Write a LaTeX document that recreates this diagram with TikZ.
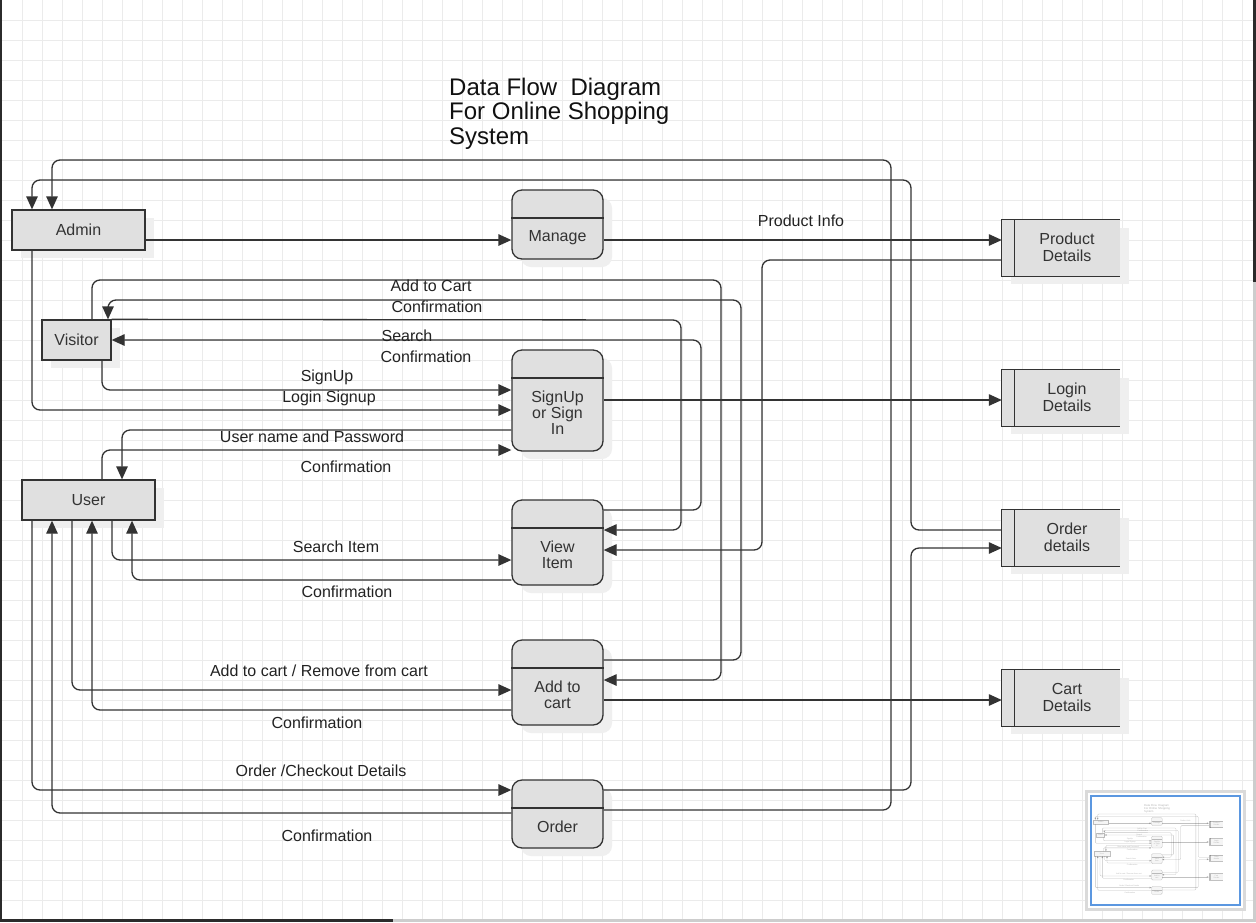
\documentclass[tikz,border=0pt]{standalone}
\usepackage{fontspec}
\setmainfont{Liberation Sans}
\usetikzlibrary{arrows.meta,shadows,calc}
\definecolor{linec}{HTML}{333333}
\definecolor{boxc}{HTML}{E0E0E0}
\definecolor{shadc}{HTML}{EFEFEF}
\definecolor{gridc}{HTML}{EBEBEB}
\definecolor{txtc}{HTML}{333333}
\definecolor{lblc}{HTML}{222222}
\definecolor{ttlc}{HTML}{111111}
\definecolor{darkc}{HTML}{2B2B2B}
\definecolor{scrollc}{HTML}{CDCDCD}
\definecolor{navc}{HTML}{5B97E0}
\definecolor{navshc}{HTML}{DADADA}
\def\lw{1.3pt}
\def\asc{1}
\def\rc{8pt}
\def\prc{10pt}
\tikzset{
  shd/.style={drop shadow={shadow xshift=9pt, shadow yshift=-8pt, fill=shadc, opacity=1}},
  flow/.style={draw=linec, line width=\lw, rounded corners=\rc,
    -{Triangle[length=13pt,width=11.5pt,scale=\asc]}},
  ent/.style={draw=linec, fill=boxc, line width=\lw, inner sep=0pt,
    text=txtc, font=\fontsize{16}{17}\selectfont, shd},
  proc/.style={ent, rounded corners=\prc, minimum width=91pt},
  store/.style={fill=boxc, draw=none, inner sep=0pt, minimum width=118pt, minimum height=56pt, shd},
  sline/.style={draw=linec, line width=\lw},
  ptxt/.style={text=txtc, font=\fontsize{16}{16}\selectfont, align=center, inner sep=0pt},
  stxt/.style={text=txtc, font=\fontsize{16}{17}\selectfont, align=center, inner sep=0pt},
  lbl/.style={text=lblc, font=\fontsize{16}{17}\selectfont, inner sep=0pt},
  ttl/.style={text=ttlc, font=\fontsize{24}{26}\selectfont, anchor=base west, inner sep=0pt},
}
\newcommand\storeframe[1]{%
  \draw[sline] (#1.north east) -- (#1.north west) -- (#1.south west) -- (#1.south east);
  \draw[sline] ($(#1.north west)+(12.5,0)$) -- ($(#1.south west)+(12.5,0)$);}
\newcommand\drawdfd[1]{%
  % title
  \node[ttl] (#1t1) at (449,95) {Data Flow\ \ Diagram};
  \node[ttl] (#1t2) at (449,119.5) {For Online Shopping};
  \node[ttl] (#1t3) at (449,144) {System};
  % external entities
  \node[ent, minimum width=133pt, minimum height=40pt] (#1admin) at (78.5,230) {Admin};
  \node[ent, minimum width=69pt, minimum height=40pt] (#1visitor) at (76.5,340) {Visitor};
  \node[ent, minimum width=133pt, minimum height=40pt] (#1user) at (88.5,500) {User};
  % processes
  \node[proc, minimum height=69pt] (#1manage) at (557.5,224.5) {};
  \node[proc, minimum height=101pt] (#1signup) at (557.5,400.5) {};
  \node[proc, minimum height=85pt] (#1view) at (557.5,542.5) {};
  \node[proc, minimum height=85pt] (#1cart) at (557.5,682.5) {};
  \node[proc, minimum height=68pt] (#1order) at (557.5,814) {};
  \draw[sline] (#1manage.west |- 0,218) -- (#1manage.east |- 0,218);
  \draw[sline] (#1signup.west |- 0,378) -- (#1signup.east |- 0,378);
  \draw[sline] (#1view.west |- 0,528) -- (#1view.east |- 0,528);
  \draw[sline] (#1cart.west |- 0,668) -- (#1cart.east |- 0,668);
  \draw[sline] (#1order.west |- 0,808) -- (#1order.east |- 0,808);
  \node[ptxt] (#1managet) at (557.5,238) {Manage};
  \node[ptxt] (#1signupt) at (557.5,413) {SignUp\\or Sign\\In};
  \node[ptxt] (#1viewt) at (557.5,555) {View\\Item};
  \node[ptxt] (#1cartt) at (557.5,695) {Add to\\cart};
  \node[ptxt] (#1ordert) at (557.5,827) {Order};
  % data stores
  \node[store] (#1prod) at (1061,248) {};
  \node[store] (#1login) at (1061,398) {};
  \node[store] (#1orderd) at (1061,538) {};
  \node[store] (#1cartd) at (1061,698) {};
  \storeframe{#1prod}\storeframe{#1login}\storeframe{#1orderd}\storeframe{#1cartd}
  \node[stxt] (#1prodt) at (1067,247.5) {Product\\Details};
  \node[stxt] (#1logint) at (1067,397.5) {Login\\Details};
  \node[stxt] (#1orderdt) at (1067,537.5) {Order\\details};
  \node[stxt] (#1cartdt) at (1067,697.5) {Cart\\Details};
  % flows
  \draw[flow] (#1admin.east |- 0,240) -- (#1manage.west |- 0,240);
  \draw[flow] (#1manage.east |- 0,240) -- (#1prod.west |- 0,240);
  \draw[flow] (#1prod.west |- 0,260) -- (762,260) -- (762,550) -- (#1view.east |- 0,550);
  \draw[flow] (#1order.east |- 0,810) -- (891,810) -- (891,160) -- (52,160) -- (52,0 |- #1admin.north);
  \draw[flow] (#1orderd.west |- 0,530) -- (911,530) -- (911,180) -- (32,180) -- (32,0 |- #1admin.north);
  \draw[flow] (#1order.east |- 0,790) -- (911,790) -- (911,548) -- (#1orderd.west |- 0,548);
  \draw[flow] (32,0 |- #1admin.south) -- (32,410) -- (#1signup.west |- 0,410);
  \draw[flow] (102,0 |- #1visitor.south) -- (102,390) -- (#1signup.west |- 0,390);
  \draw[flow] (#1signup.west |- 0,430) -- (122,430) -- (122,0 |- #1user.north);
  \draw[flow] (102,0 |- #1user.north) -- (102,450) -- (#1signup.west |- 0,450);
  \draw[flow] (#1signup.east |- 0,400) -- (#1login.west |- 0,400);
  \draw[flow] (92,0 |- #1visitor.north) -- (92,280) -- (721,280) -- (721,680) -- (#1cart.east |- 0,680);
  \draw[flow] (#1cart.east |- 0,660) -- (741,660) -- (741,300) -- (108,300) -- (108,0 |- #1visitor.north);
  \draw[flow] (#1visitor.north east) -- (681,320) -- (681,530) -- (#1view.east |- 0,530);
  \draw[flow] (#1view.east |- 0,510) -- (701,510) -- (701,340) -- (#1visitor.east |- 0,340);
  \draw[flow] (112,0 |- #1user.south) -- (112,560) -- (#1view.west |- 0,560);
  \draw[flow] (#1view.west |- 0,580) -- (132,580) -- (132,0 |- #1user.south);
  \draw[flow] (72,0 |- #1user.south) -- (72,690) -- (#1cart.west |- 0,690);
  \draw[flow] (#1cart.west |- 0,710) -- (92,710) -- (92,0 |- #1user.south);
  \draw[flow] (#1cart.east |- 0,700) -- (#1cartd.west |- 0,700);
  \draw[flow] (32,0 |- #1user.south) -- (32,790) -- (#1order.west |- 0,790);
  \draw[flow] (#1order.west |- 0,813) -- (52,813) -- (52,0 |- #1user.south);
  % labels
  \node[lbl] (#1l1) at (801,221) {Product Info};
  \node[lbl] (#1l2) at (431,286) {Add to Cart};
  \node[lbl] (#1l3) at (437,307) {Confirmation};
  \node[lbl] (#1l4) at (407,336) {Search};
  \node[lbl] (#1l5) at (426,357) {Confirmation};
  \node[lbl] (#1l6) at (327,377) {SignUp};
  \node[lbl] (#1l7) at (329,398) {Login Signup};
  \node[lbl] (#1l8) at (312,437) {User name and Password};
  \node[lbl] (#1l9) at (346,467) {Confirmation};
  \node[lbl] (#1l10) at (336,547) {Search Item};
  \node[lbl] (#1l11) at (347,592) {Confirmation};
  \node[lbl] (#1l12) at (319,671) {Add to cart / Remove from cart};
  \node[lbl] (#1l13) at (317,723) {Confirmation};
  \node[lbl] (#1l14) at (321,771) {Order /Checkout Details};
  \node[lbl] (#1l15) at (327,836) {Confirmation};
}
\begin{document}
\begin{tikzpicture}[x=1pt,y=-1pt]
  \useasboundingbox (0,0) rectangle (1256,922);
  \fill[white] (0,0) rectangle (1256,922);
  % editor grid
  \foreach \gx in {22,42,...,1242} \draw[gridc, line width=1pt] (\gx,0) -- (\gx,919);
  \foreach \gy in {20.5,40.5,...,900.5} \draw[gridc, line width=1pt] (2,\gy) -- (1253,\gy);
  % window edges / scrollbars
  \fill[darkc] (0,0) rectangle (2.3,922);
  \fill[darkc] (1253,0) rectangle (1256,282);
  \fill[scrollc] (1253,282) rectangle (1256,922);
  \fill[darkc] (2,919) rectangle (393,922);
  \fill[scrollc] (393,919) rectangle (1253,922);
  % main diagram
  \drawdfd{}
  % navigator (minimap)
  \fill[navshc] (1085,790) rectangle (1246,911);
  \fill[white] (1088,793) rectangle (1243,908);
  \begin{scope}[shift={(1091.6,795.2)}, scale=0.117, transform shape, opacity=0.3]
    \def\lw{0.3pt}\def\asc{0.15}\def\rc{1pt}\def\prc{1.2pt}
    \tikzset{shd/.style={}}
    \drawdfd{m}
  \end{scope}
  \draw[navc, line width=1.6pt] (1091,796) rectangle (1240,905);
\end{tikzpicture}
\end{document}
